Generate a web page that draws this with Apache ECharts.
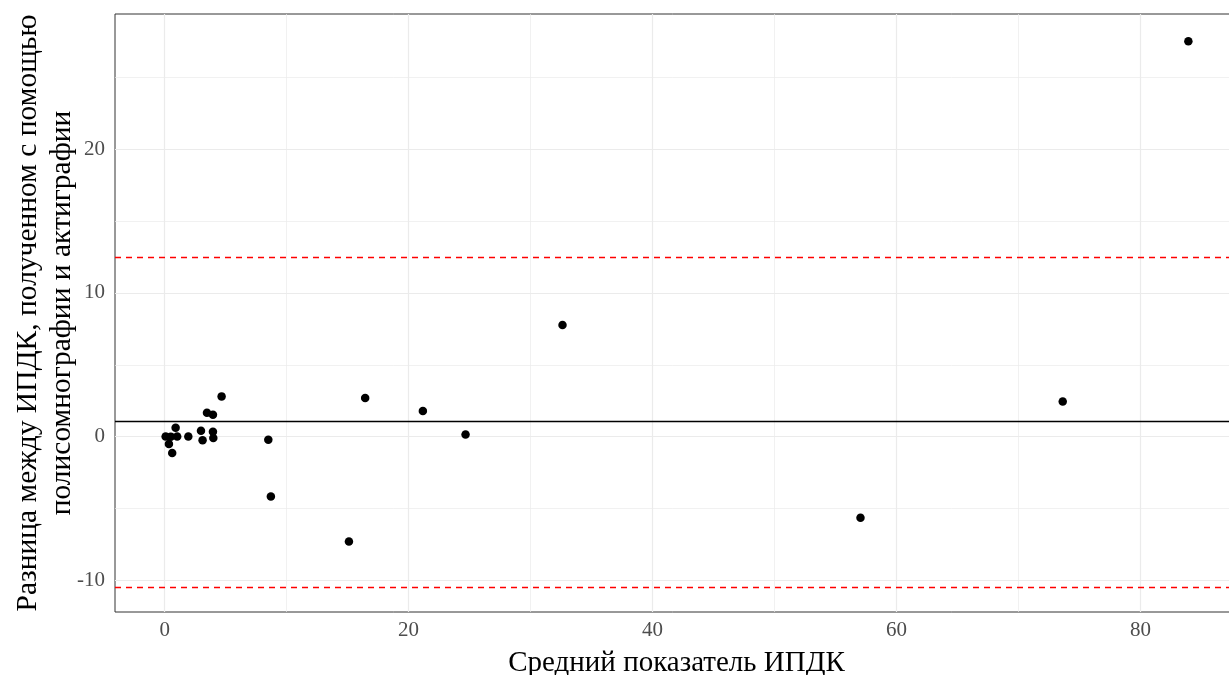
<!DOCTYPE html>
<html>
<head>
<meta charset="utf-8">
<script src="https://cdn.jsdelivr.net/npm/echarts@6/dist/echarts.min.js"></script>
<style>
  html, body { margin: 0; padding: 0; background: #fff; }
  #chart { width: 1229px; height: 675px; }
</style>
</head>
<body>
<div id="chart"></div>
<script>
// Bland–Altman plot: mean of the two methods vs. their difference
const meanValues = [0.08, 0.50, 1.03, 0.35, 0.62, 0.90, 1.94, 2.98, 3.11, 3.96, 3.99, 3.47, 3.96, 4.67,
  8.50, 8.71, 15.11, 16.44, 21.17, 24.67, 32.62, 57.05, 73.63, 83.93];
const diffValues = [0.01, 0.00, 0.01, -0.52, -1.14, 0.62, 0.01, 0.41, -0.26, 0.34, -0.10, 1.66, 1.52, 2.80,
  -0.22, -4.16, -7.29, 2.68, 1.78, 0.15, 7.76, -5.64, 2.45, 27.51];

// bias and limits of agreement
const biasLine = [1.04];
const limitLines = [12.5, -10.45];

// axis breaks
const xTicks = [0, 20, 40, 60, 80];
const xMinor = [10, 30, 50, 70];
const yTicks = [-10, 0, 10, 20];
const yMinor = [-5, 5, 15, 25];

const xTitle = 'Средний показатель ИПДК';
const yTitle = ['Разница между ИПДК, полученном с помощью', 'полисомнографии и актиграфии'];

const FONT = '"Liberation Serif", "DejaVu Serif", serif';
const GRID = { left: 115, top: 14, right: -9, bottom: 63 };

const chart = echarts.init(document.getElementById('chart'), null, { renderer: 'canvas' });

const gridLine = (axis, v, w) => ({
  [axis]: v,
  lineStyle: { color: '#ebebeb', width: w, type: 'solid' },
  label: { show: false }, symbol: 'none'
});

const gridMarks = [
  ...xMinor.map(v => gridLine('xAxis', v, 0.7)),
  ...yMinor.map(v => gridLine('yAxis', v, 0.7)),
  ...xTicks.map(v => gridLine('xAxis', v, 1.2)),
  ...yTicks.map(v => gridLine('yAxis', v, 1.2))
];

const axisCommon = {
  type: 'value',
  axisLine: { show: false },
  splitLine: { show: false },
  axisTick: { show: true, length: 4, lineStyle: { color: '#333', width: 1 } },
  axisLabel: { color: '#4d4d4d', fontFamily: FONT, fontSize: 21 }
};

const refLine = (data, color, type, width, z) => ({
  type: 'line', data: [], silent: true, z, color,
  markLine: {
    z, silent: true, symbol: 'none', animation: false, label: { show: false },
    lineStyle: { color, width, type, opacity: 1 },
    data: data.map(v => ({ yAxis: v, lineStyle: { color, width, type, opacity: 1 } }))
  }
});

chart.setOption({
  animation: false,
  backgroundColor: '#fff',
  grid: {
    ...GRID, outerBoundsMode: 'none', containLabel: false,
    show: true, borderColor: '#333', borderWidth: 1, backgroundColor: 'transparent'
  },
  xAxis: {
    ...axisCommon,
    min: -4.07, max: 88,
    axisTick: { ...axisCommon.axisTick, customValues: xTicks },
    axisLabel: { ...axisCommon.axisLabel, customValues: xTicks, margin: 8 },
    name: xTitle, nameLocation: 'middle', nameGap: 37,
    nameTextStyle: { color: '#000', fontFamily: FONT, fontSize: 29 }
  },
  yAxis: {
    ...axisCommon,
    min: -12.2, max: 29.4,
    axisTick: { ...axisCommon.axisTick, customValues: yTicks },
    axisLabel: { ...axisCommon.axisLabel, customValues: yTicks, margin: 10 }
  },
  graphic: [{
    type: 'text',
    x: 45, y: 313, rotation: Math.PI / 2,
    style: {
      text: yTitle.join('\n'),
      fill: '#000', font: '29.5px ' + FONT,
      align: 'center', verticalAlign: 'middle', lineHeight: 34
    }
  }],
  series: [
    {
      type: 'line', data: [], silent: true, z: 1,
      markLine: { z: 1, silent: true, symbol: 'none', animation: false, data: gridMarks }
    },
    {
      type: 'scatter', z: 3,
      data: meanValues.map((x, i) => [x, diffValues[i]]),
      symbol: 'circle', symbolSize: 8.5,
      itemStyle: { color: '#000', opacity: 1 }
    },
    refLine(biasLine, '#000000', 'solid', 1.3, 4),
    refLine(limitLines, '#ff0000', [6, 5], 1.3, 4)
  ]
});
</script>
</body>
</html>
